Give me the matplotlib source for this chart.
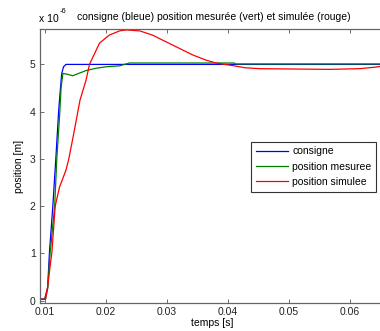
import numpy as np
import matplotlib
matplotlib.use("Agg")
import matplotlib.pyplot as plt

plt.rcParams["font.family"] = ["Liberation Sans", "DejaVu Sans"]

# ── Data (position in units of 1e-6 m) ────────────────────────────────────────
t_consigne = [0.0092, 0.0099, 0.0104, 0.0107, 0.01125, 0.01174, 0.0122, 0.01234,
              0.0127, 0.0130, 0.0134, 0.0200, 0.0656]
y_consigne = [0.03, 0.03, 0.27, 1.03, 2.0, 3.0, 4.0, 4.24,
              4.8, 4.95, 5.0, 5.0, 5.0]

t_mesuree = [0.0092, 0.01005, 0.0104, 0.0108, 0.01155, 0.0119, 0.0124, 0.0126,
             0.0129, 0.0137, 0.0145, 0.0167, 0.0184, 0.0200, 0.0222, 0.0230,
             0.0238, 0.0410, 0.0412, 0.0656]
y_mesuree = [0.03, 0.03, 0.25, 1.0, 2.0, 3.0, 4.0, 4.5,
             4.81, 4.79, 4.76, 4.87, 4.92, 4.95, 4.97, 5.0,
             5.03, 5.03, 5.01, 5.01]

t_simulee = [0.0092, 0.01005, 0.0104, 0.0111, 0.01164, 0.01234, 0.0134, 0.01387,
             0.0147, 0.0157, 0.0167, 0.01726, 0.0189, 0.0205, 0.0222, 0.0233,
             0.0255, 0.0276, 0.0298, 0.0320, 0.0342, 0.0364, 0.0380, 0.0400,
             0.0419, 0.0427, 0.0451, 0.0566, 0.0616, 0.0640, 0.0656]
y_simulee = [0.03, 0.03, 0.3, 1.03, 2.0, 2.4, 2.76, 3.0,
             3.55, 4.24, 4.67, 5.0, 5.45, 5.62, 5.71, 5.73,
             5.71, 5.62, 5.48, 5.34, 5.2, 5.09, 5.03, 4.99,
             4.95, 4.93, 4.91, 4.895, 4.91, 4.94, 4.97]

x_ticks = [0.01, 0.02, 0.03, 0.04, 0.05, 0.06]
y_ticks = [0, 1, 2, 3, 4, 5]

# ── Figure ─────────────────────────────────────────────────────────────────────
fig = plt.figure(figsize=(3.8, 3.31), dpi=100)
fig.patch.set_facecolor("white")
# axes runs past the right edge of the picture, as in the cropped reference
ax = fig.add_axes([0.105, 0.0855, 0.905, 0.8255])

scale = 1e-6
ax.plot(t_consigne, np.array(y_consigne) * scale, color="#0000ff", lw=0.9, label="consigne")
ax.plot(t_mesuree, np.array(y_mesuree) * scale, color="#008000", lw=0.9, label="position mesuree")
ax.plot(t_simulee, np.array(y_simulee) * scale, color="#ff0000", lw=0.9, label="position simulee")

ax.set_xlim(0.00913, 0.06553)
ax.set_ylim(-0.045 * scale, 5.74 * scale)
ax.set_xticks(x_ticks)
ax.set_xticklabels([f"{v:.2f}" for v in x_ticks])
ax.set_yticks([v * scale for v in y_ticks])
ax.set_yticklabels([str(v) for v in y_ticks])
ax.tick_params(direction="in", length=3, width=0.6, top=True, right=True,
               labelsize=7.5, colors="#555555", labelcolor="#222222", pad=3)
for sp in ax.spines.values():
    sp.set_color("#666666")
    sp.set_linewidth(0.9)

ax.set_xlabel("temps [s]", fontsize=7.5, labelpad=1)
ax.set_ylabel("position [m]", fontsize=7.5, labelpad=4)
fig.text(0.562, 0.935, "consigne (bleue) position mesurée (vert) et simulée (rouge)",
         fontsize=7.5, ha="center", va="bottom")
fig.text(0.103, 0.928, "x 10", fontsize=7.5, ha="left", va="bottom")
fig.text(0.158, 0.955, "-6", fontsize=5.5, ha="left", va="bottom")

leg = ax.legend(loc="upper right", bbox_to_anchor=(0.9785, 0.589), fontsize=7.5,
                frameon=True, fancybox=False, framealpha=1, edgecolor="#333333",
                handlelength=3.1, borderpad=0.45, labelspacing=0.5, handletextpad=0.4,
                borderaxespad=0)
leg.get_frame().set_linewidth(0.8)

fig.savefig("out.png", dpi=100, facecolor="white")
